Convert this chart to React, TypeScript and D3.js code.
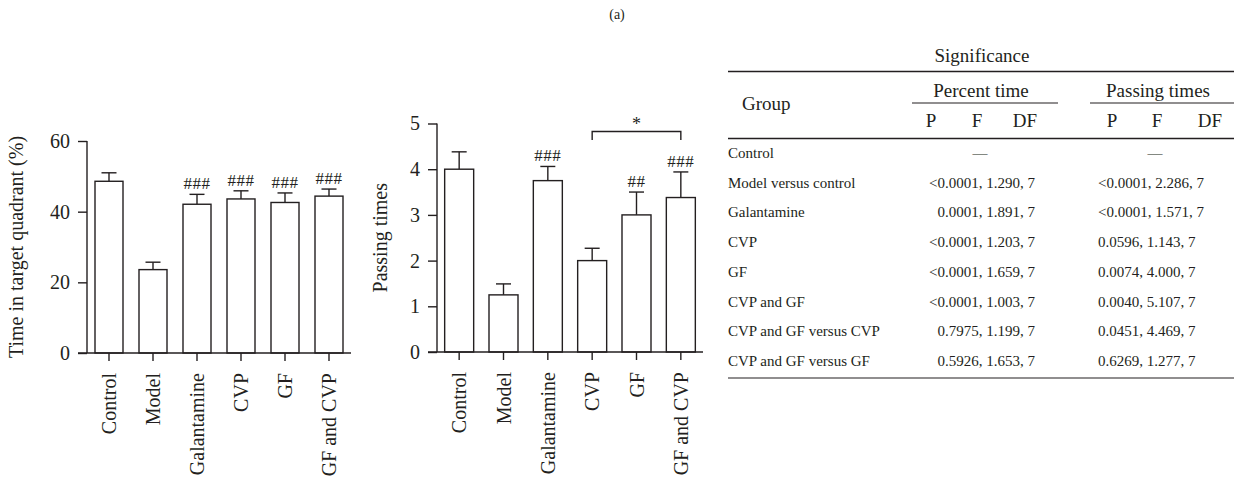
import React, { useEffect, useRef } from 'react';
import * as d3 from 'd3';

// bar charts
const GROUPS = ['Control', 'Model', 'Galantamine', 'CVP', 'GF', 'GF and CVP'];

const PCT_MEAN = [48.6, 23.6, 42.1, 43.6, 42.6, 44.4];
const PCT_ERR = [2.4, 2.1, 2.8, 2.3, 2.7, 2.0];
const PCT_MARK = ['', '', '###', '###', '###', '###'];
const PCT_TICKS = [0, 20, 40, 60];

const PASS_MEAN = [4.0, 1.25, 3.75, 2.0, 3.0, 3.38];
const PASS_ERR = [0.38, 0.24, 0.31, 0.27, 0.5, 0.56];
const PASS_MARK = ['', '', '###', '', '##', '###'];
const PASS_TICKS = [0, 1, 2, 3, 4, 5];
const PASS_BRACKET = ['CVP', 'GF and CVP'];

// table
const ROW_LABELS = [
  'Control',
  'Model versus control',
  'Galantamine',
  'CVP',
  'GF',
  'CVP and GF',
  'CVP and GF versus CVP',
  'CVP and GF versus GF',
];
const PCT_STATS = [
  '—',
  '<0.0001, 1.290, 7',
  '0.0001, 1.891, 7',
  '<0.0001, 1.203, 7',
  '<0.0001, 1.659, 7',
  '<0.0001, 1.003, 7',
  '0.7975, 1.199, 7',
  '0.5926, 1.653, 7',
];
const PASS_STATS = [
  '—',
  '<0.0001, 2.286, 7',
  '<0.0001, 1.571, 7',
  '0.0596, 1.143, 7',
  '0.0074, 4.000, 7',
  '0.0040, 5.107, 7',
  '0.0451, 4.469, 7',
  '0.6269, 1.277, 7',
];
const SUB_COLS = ['P', 'F', 'DF'];

const FONT = '"Liberation Serif", "DejaVu Serif", serif';
const INK = '#231f20';

interface BarOpts {
  left: number;
  right: number;
  top: number;
  bottom: number;
  max: number;
  ticks: number[];
  mean: number[];
  err: number[];
  marks: string[];
  title: string;
  titleX: number;
  barW: number;
}

function drawBars(svg: d3.Selection<SVGSVGElement, unknown, null, undefined>, o: BarOpts) {
  const g = svg.append('g');
  const x = d3.scaleBand().domain(GROUPS).range([o.left, o.right]).padding(0);
  const y = d3.scaleLinear().domain([0, o.max]).range([o.bottom, o.top]);
  const bw = o.barW;

  GROUPS.forEach((grp, i) => {
    const cx = (x(grp) ?? 0) + x.bandwidth() / 2;
    const v = o.mean[i];
    const e = v + o.err[i];
    g.append('line')
      .attr('x1', cx).attr('x2', cx)
      .attr('y1', y(v)).attr('y2', y(e))
      .attr('stroke', INK).attr('stroke-width', 1.4);
    g.append('line')
      .attr('x1', cx - 7.5).attr('x2', cx + 7.5)
      .attr('y1', y(e)).attr('y2', y(e))
      .attr('stroke', INK).attr('stroke-width', 1.4);
    g.append('rect')
      .attr('x', cx - bw / 2)
      .attr('y', y(v))
      .attr('width', bw)
      .attr('height', y(0) - y(v))
      .attr('fill', '#fff')
      .attr('stroke', INK)
      .attr('stroke-width', 1.4);
    if (o.marks[i]) {
      g.append('text')
        .attr('x', cx)
        .attr('y', y(e) - 5)
        .attr('text-anchor', 'middle')
        .attr('font-family', FONT)
        .attr('font-size', 17)
        .attr('letter-spacing', 0.5)
        .attr('fill', INK)
        .text(o.marks[i]);
    }
  });

  // y axis
  const ya = g.append('g')
    .attr('transform', `translate(${o.left},0)`)
    .call(d3.axisLeft(y).tickValues(o.ticks).tickFormat(d3.format('d')).tickSize(9).tickPadding(8));
  ya.select('.domain').attr('d', `M0,${o.bottom}V${y(o.max)}`).attr('stroke', INK).attr('stroke-width', 1.4);
  ya.selectAll('.tick line').attr('stroke', INK).attr('stroke-width', 1.4);
  ya.selectAll('.tick text')
    .attr('font-family', FONT).attr('font-size', 20).attr('fill', INK);

  // x axis
  const xa = g.append('g')
    .attr('transform', `translate(0,${o.bottom})`)
    .call(d3.axisBottom(x).tickSize(8).tickPadding(12));
  xa.select('.domain').attr('d', `M${o.left - 9},0H${o.right}`).attr('stroke', INK).attr('stroke-width', 1.4);
  xa.selectAll('.tick line').attr('stroke', INK).attr('stroke-width', 1.4);
  xa.selectAll('.tick text')
    .attr('font-family', FONT).attr('font-size', 20).attr('fill', INK)
    .attr('transform', 'rotate(-90)')
    .attr('text-anchor', 'end')
    .attr('x', -20)
    .attr('y', 0)
    .attr('dy', '0.35em');

  g.append('text')
    .attr('transform', `translate(${o.titleX},${(o.top + o.bottom) / 2}) rotate(-90)`)
    .attr('text-anchor', 'middle')
    .attr('dy', '0.35em')
    .attr('font-family', FONT).attr('font-size', 20).attr('fill', INK)
    .text(o.title);

  return { x, y, g };
}

const App: React.FC = () => {
  const svgRef = useRef<SVGSVGElement>(null);

  useEffect(() => {
    if (!svgRef.current) return;
    const svg = d3.select(svgRef.current);
    svg.selectAll('*').remove();

    svg.append('text')
      .attr('x', 617).attr('y', 19)
      .attr('text-anchor', 'middle')
      .attr('font-family', FONT).attr('font-size', 14).attr('fill', INK)
      .text('(a)');

    drawBars(svg, {
      left: 87, right: 351, top: 141, bottom: 353, max: 60,
      ticks: PCT_TICKS, mean: PCT_MEAN, err: PCT_ERR, marks: PCT_MARK,
      title: 'Time in target quadrant (%)', titleX: 16, barW: 28,
    });

    const p = drawBars(svg, {
      left: 437, right: 703, top: 123.5, bottom: 352, max: 5,
      ticks: PASS_TICKS, mean: PASS_MEAN, err: PASS_ERR, marks: PASS_MARK,
      title: 'Passing times', titleX: 380, barW: 29,
    });

    // significance bracket
    const bx1 = (p.x(PASS_BRACKET[0]) ?? 0) + p.x.bandwidth() / 2;
    const bx2 = (p.x(PASS_BRACKET[1]) ?? 0) + p.x.bandwidth() / 2;
    p.g.append('path')
      .attr('d', `M${bx1},140V131.5H${bx2}V140`)
      .attr('fill', 'none').attr('stroke', INK).attr('stroke-width', 1.4);
    p.g.append('text')
      .attr('x', (bx1 + bx2) / 2).attr('y', 130)
      .attr('text-anchor', 'middle')
      .attr('font-family', FONT).attr('font-size', 18).attr('fill', INK)
      .text('*');

    // table
    const t = svg.append('g').attr('font-family', FONT).attr('fill', INK);
    const tl = 728;
    const tr = 1234;
    const line = (x1: number, x2: number, yy: number, w: number) =>
      t.append('line').attr('x1', x1).attr('x2', x2).attr('y1', yy).attr('y2', yy)
        .attr('stroke', INK).attr('stroke-width', w);

    t.append('text').attr('x', 982).attr('y', 62).attr('text-anchor', 'middle')
      .attr('font-size', 19).text('Significance');
    line(tl, tr, 71.5, 1.6);
    t.append('text').attr('x', 742).attr('y', 110)
      .attr('font-size', 19).text('Group');

    const spans = [
      { label: 'Percent time', x1: 912, x2: 1058, cols: [931, 977, 1025] },
      { label: 'Passing times', x1: 1090, x2: 1234, cols: [1112, 1157, 1210] },
    ];
    spans.forEach((s) => {
      t.append('text').attr('x', (s.x1 + s.x2) / 2 - 4).attr('y', 97).attr('text-anchor', 'middle')
        .attr('font-size', 19).text(s.label);
      line(s.x1, s.x2, 103, 1.2);
      SUB_COLS.forEach((c, i) => {
        t.append('text').attr('x', s.cols[i]).attr('y', 127).attr('text-anchor', 'middle')
          .attr('font-size', 19).text(c);
      });
    });
    line(tl, tr, 138.5, 1.6);

    const rowY = d3.scalePoint<string>().domain(ROW_LABELS).range([158, 366]);
    ROW_LABELS.forEach((r, i) => {
      const yy = rowY(r) ?? 0;
      t.append('text').attr('x', tl).attr('y', yy).attr('font-size', 15).text(r);
      const a = PCT_STATS[i];
      const b = PASS_STATS[i];
      if (a === '—') {
        t.append('text').attr('x', 980).attr('y', yy).attr('text-anchor', 'middle').attr('font-size', 15).text(a);
      } else {
        t.append('text').attr('x', 1035).attr('y', yy).attr('text-anchor', 'end').attr('font-size', 15).text(a);
      }
      if (b === '—') {
        t.append('text').attr('x', 1155).attr('y', yy).attr('text-anchor', 'middle').attr('font-size', 15).text(b);
      } else {
        t.append('text').attr('x', 1098).attr('y', yy).attr('font-size', 15).text(b);
      }
    });
    line(tl, tr, 378, 1.2);
  }, []);

  return (
    <div style={{ position: 'absolute', left: 0, top: 0 }}>
      <svg ref={svgRef} width={1234} height={485} style={{ display: 'block', background: '#fff' }} />
    </div>
  );
};

export default App;
